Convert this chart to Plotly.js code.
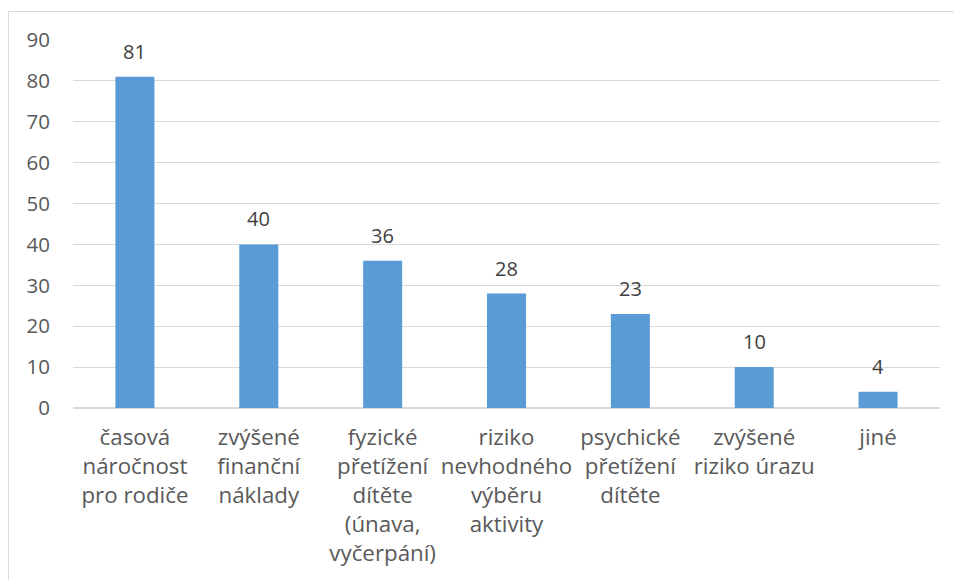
<!DOCTYPE html>
<html>
<head>
<meta charset="utf-8">
<script src="https://cdn.plot.ly/plotly-3.0.1.min.js"></script>
<style>
  html, body { margin: 0; padding: 0; background: #ffffff; overflow: hidden; }
  #frame { position: absolute; left: 8px; top: 11px; width: 1100px; height: 800px; border: 1px solid #d9d9d9; box-sizing: border-box; }
  #chart { position: absolute; left: 0; top: 0; width: 954px; height: 580px; }
</style>
</head>
<body>
<div id="frame"></div>
<div id="chart"></div>
<script>
const categories = [
  "časová<br>náročnost<br>pro rodiče",
  "zvýšené<br>finanční<br>náklady",
  "fyzické<br>přetížení<br>dítěte<br>(únava,<br>vyčerpání)",
  "riziko<br>nevhodného<br>výběru<br>aktivity",
  "psychické<br>přetížení<br>dítěte",
  "zvýšené<br>riziko úrazu",
  "jiné"
];
const values = [81, 40, 36, 28, 23, 10, 4];
const yTicks = [0, 10, 20, 30, 40, 50, 60, 70, 80, 90];

const fontFamily = "'Open Sans', 'Noto Sans', sans-serif";

const trace = {
  type: "bar",
  x: categories,
  y: values,
  marker: { color: "#5b9bd5" },
  hoverinfo: "none"
};

const labelAnnotations = categories.map((c, i) => ({
  x: c,
  y: values[i],
  xref: "x",
  yref: "y",
  text: String(values[i]),
  showarrow: false,
  yanchor: "bottom",
  yshift: 10,
  font: { family: fontFamily, size: 20, color: "#404040" }
}));

const layout = {
  width: 954,
  height: 580,
  margin: { l: 73, r: 14, t: 40, b: 172 },
  paper_bgcolor: "rgba(0,0,0,0)",
  plot_bgcolor: "rgba(0,0,0,0)",
  bargap: 0.685,
  showlegend: false,
  annotations: labelAnnotations,
  xaxis: {
    type: "category",
    tickfont: { family: fontFamily, size: 22.3, color: "#595959" },
    showgrid: false,
    showline: false,
    ticks: "",
    zeroline: false,
    ticklabelstandoff: 14,
    fixedrange: true
  },
  yaxis: {
    range: [0, 90],
    tickvals: yTicks,
    ticktext: yTicks.map(String),
    tickfont: { family: fontFamily, size: 20.5, color: "#595959" },
    showgrid: true,
    gridcolor: "#d9d9d9",
    gridwidth: 1,
    zeroline: true,
    zerolinecolor: "#d9d9d9",
    zerolinewidth: 1.5,
    showline: false,
    ticks: "",
    ticklabelstandoff: 22,
    fixedrange: true
  }
};

Plotly.newPlot("chart", [trace], layout, { displayModeBar: false, staticPlot: true });
</script>
</body>
</html>
